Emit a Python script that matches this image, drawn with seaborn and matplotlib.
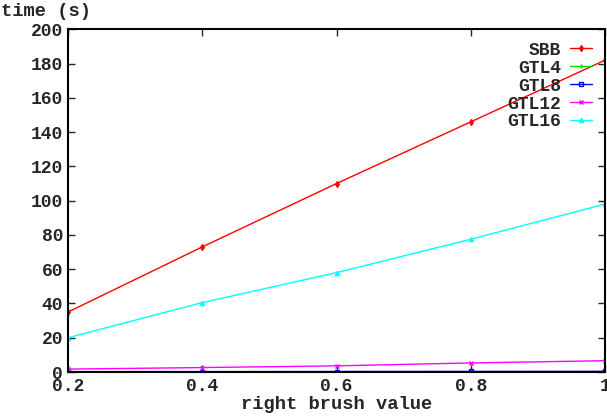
import numpy as np
import pandas as pd
import seaborn as sns
import matplotlib.pyplot as plt

brush = [0.2, 0.4, 0.6, 0.8, 1.0]
sbb = [35, 73, 110, 146, 182]
gtl4 = [0.05, 0.05, 0.1, 0.1, 0.15]
gtl8 = [0.2, 0.25, 0.3, 0.35, 0.4]
gtl12 = [1.7, 2.6, 3.6, 5.3, 6.6]
gtl16 = [20, 40.5, 58, 77.5, 98]

series = ["SBB", "GTL4", "GTL8", "GTL12", "GTL16"]
values = [sbb, gtl4, gtl8, gtl12, gtl16]
colors = ["#ff0000", "#00dd00", "#0000ff", "#ff00ff", "#00ffff"]
markers = ["d", "+", "s", "x", "^"]

sns.set_style("ticks")
plt.rcParams["font.family"] = ["Liberation Mono", "DejaVu Sans Mono"]
plt.rcParams["font.weight"] = "bold"

fig = plt.figure(figsize=(6.07, 4.18), dpi=100)
ax = fig.add_axes([0.112, 0.11, 0.885, 0.82])

# one call per series, the marker kinds can't be mixed in a single lineplot
for name, vals, c, m in zip(series, values, colors, markers):
    sns.lineplot(x=brush, y=vals, color=c, marker=m, linewidth=1,
                 markersize=3, markeredgewidth=1, markeredgecolor=c,
                 markerfacecolor=c if m != "s" else "none",
                 label=name, ax=ax)

ax.set_xlim(0.2, 1.0)
ax.set_ylim(0, 200)
ax.set_xticks([0.2, 0.4, 0.6, 0.8, 1.0])
ax.set_xticklabels(["0.2", "0.4", "0.6", "0.8", "1"])
ax.set_yticks(range(0, 201, 20))
ax.tick_params(direction="in", length=5, width=1, labelsize=13, top=True, right=True)
ax.tick_params(axis="x", pad=4)
for s in ax.spines.values():
    s.set_linewidth(1.5)
    s.set_color("black")

ax.set_xlabel("right brush value", fontsize=13.5, fontweight="bold", labelpad=1)
ax.set_ylabel("")
fig.text(0.002, 0.972, "time (s)", fontsize=13.5, fontweight="bold", va="center")

handles, labels = ax.get_legend_handles_labels()
ax.legend(handles, labels, loc="upper right", markerfirst=False, frameon=False,
          fontsize=13, handlelength=1.2, labelspacing=0.05, borderaxespad=0.2,
          handletextpad=0.5, bbox_to_anchor=(0.995, 0.995))

fig.savefig("out.png", dpi=100)
